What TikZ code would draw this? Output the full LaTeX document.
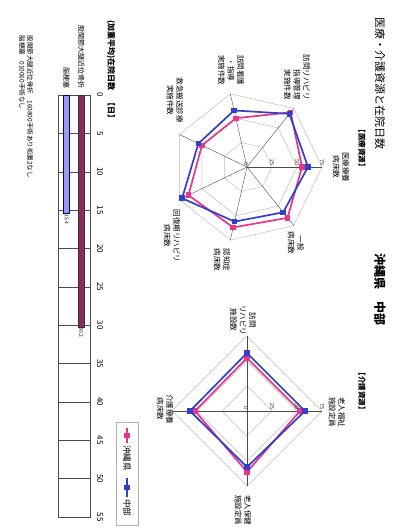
\documentclass[tikz,border=0pt]{standalone}
\usepackage{fontspec}
\setmainfont{Noto Sans CJK JP}
\definecolor{okipink}{RGB}{232,52,140}
\definecolor{chubublue}{RGB}{48,64,200}
\definecolor{hipbar}{RGB}{140,40,95}
\definecolor{strokebar}{RGB}{155,155,235}
\begin{document}
\begin{tikzpicture}[x=1pt,y=1pt,
  ring/.style={gray!50,line width=.5pt},
  spoke/.style={black!70,line width=.4pt},
  okiline/.style={okipink,line width=1.7pt,line join=round},
  chubuline/.style={chubublue,line width=1.7pt,line join=round},
  okimark/.style={fill=okipink,inner sep=0pt,minimum size=5.5pt},
  chubumark/.style={fill=chubublue,inner sep=0pt,minimum size=5.5pt},
  axlabel/.style={font=\fontsize{7.5}{9.5}\selectfont,align=center,inner sep=0pt},
  ticklabel/.style={font=\fontsize{5.5}{6}\selectfont,inner sep=0pt,anchor=east,black!80}]
\useasboundingbox (0,0) rectangle (405,-530);
% page is printed turned a quarter
\begin{scope}[rotate=-90,transform shape]
\node[anchor=west,font=\fontsize{11}{13}\selectfont] (title) at (14,380) {医療・介護資源と在院日数};
\node[anchor=west,font=\fontsize{12}{14}\selectfont\bfseries] (area) at (250,380) {沖縄県　中部};
\node[anchor=west,font=\fontsize{7.5}{9}\selectfont\bfseries] (medhead) at (122,362) {【医療資源】};
\node[anchor=west,font=\fontsize{7.5}{9}\selectfont\bfseries] (carehead) at (365,362) {【介護資源】};
%
% medical radar
\begin{scope}[shift={(167,247)}]
\foreach \r in {25,50,75}
  \draw[ring] (90:\r) \foreach \k in {1,...,6}{ -- ({90-\k*360/7}:\r)} -- cycle;
\foreach \k in {0,...,6}
  \draw[spoke] (0,0) -- ({90-\k*360/7}:75);
\draw[okiline] (90:55) \foreach \r [count=\k] in {65,62,65,50,50,70}{ -- ({90-\k*360/7}:\r)} -- cycle;
\foreach \r [count=\k from 0] in {55,65,62,65,50,50,70}
  \node[okimark] (mo\k) at ({90-\k*360/7}:\r) {};
\draw[chubuline] (90:61) \foreach \r [count=\k] in {58,56,72,54,58,68}{ -- ({90-\k*360/7}:\r)} -- cycle;
\foreach \r [count=\k from 0] in {61,58,56,72,54,58,68}
  \node[chubumark] (mc\k) at ({90-\k*360/7}:\r) {};
\node[ticklabel] (m0) at (-1.5,-1) {0};
\node[ticklabel] (m25) at (-1.5,25) {25};
\node[ticklabel] (m50) at (-1.5,50) {50};
\node[ticklabel] (m75) at (-1.5,75) {75};
\node[axlabel] (ryoyo) at (0,94) {医療療養\\病床数};
\node[axlabel] (ippan) at (76,49) {一般\\病床数};
\node[axlabel] (ninchi) at (93,-25) {認知症\\病床数};
\node[axlabel] (kaifuku) at (69,-75) {回復期リハビリ\\病床数};
\node[axlabel] (kyukyu) at (-67,-72) {救急搬送診療\\実施件数};
\node[axlabel] (kango) at (-97,-16) {訪問看護\\・指導\\実施件数};
\node[axlabel,align=right] (rihamed) at (-90,50) {訪問リハビリ\\指導管理\\実施件数};
\end{scope}
%
% care radar
\begin{scope}[shift={(411,247)}]
\foreach \r in {25,50,75}
  \draw[ring] (90:\r) -- (0:\r) -- (-90:\r) -- (180:\r) -- cycle;
\draw[spoke] (-75,0) -- (75,0) (0,-75) -- (0,75);
\draw[okiline] (90:53) -- (0:61) -- (-90:52) -- (180:53) -- cycle;
\foreach \r [count=\k from 0] in {53,61,52,53}
  \node[okimark] (co\k) at ({90-\k*90}:\r) {};
\draw[chubuline] (90:58) -- (0:56) -- (-90:57) -- (180:58) -- cycle;
\foreach \r [count=\k from 0] in {58,56,57,58}
  \node[chubumark] (cc\k) at ({90-\k*90}:\r) {};
\node[ticklabel] (c0) at (-1.5,-1) {0};
\node[ticklabel] (c25) at (-1.5,25) {25};
\node[ticklabel] (c50) at (-1.5,50) {50};
\node[ticklabel] (c75) at (-1.5,75) {75};
\node[axlabel] (fukushi) at (1,90) {老人福祉\\施設定員};
\node[axlabel] (hoken) at (99,-4) {老人保健\\施設定員};
\node[axlabel] (kaigo) at (-2,-82) {介護療養\\病床数};
\node[axlabel] (rihacare) at (-91,-4) {訪問\\リハビリ\\施設数};
\end{scope}
%
% legend
\draw[gray!60,fill=white] (422,116) rectangle (525,138);
\draw[okiline] (428,127) -- (443,127);
\node[okimark] (lo) at (435.5,127) {};
\node[anchor=west,inner sep=1pt,font=\fontsize{8.5}{10}\selectfont] (lotext) at (444,127) {沖縄県};
\draw[chubuline] (478,127) -- (497,127);
\node[chubumark] (lc) at (487.5,127) {};
\node[anchor=west,inner sep=1pt,font=\fontsize{8.5}{10}\selectfont] (lctext) at (498,127) {中部};
%
% length of stay bars
\node[anchor=west,font=\fontsize{8}{9}\selectfont\bfseries] (barhead) at (17,111) {(加重平均)在院日数　【日】};
\begin{scope}[shift={(95,58)},x=7.673pt]
\draw[black!70,line width=.5pt] (0,0) rectangle (55,32);
\foreach \t in {5,10,...,50}
  \draw[black!70,line width=.4pt] (\t,0) -- (\t,33);
\foreach \t in {0,5,...,55}
  \node[font=\fontsize{8}{9}\selectfont] (t\t) at (\t,42) {\t};
\draw[fill=hipbar,draw=black!80] (0,20) rectangle (30.2,26.5);
\draw[fill=strokebar,draw=black!60!blue] (0,5.5) rectangle (15.4,11.5);
\node[anchor=east,font=\fontsize{7}{8}\selectfont] (hip) at (-0.4,23.25) {股関節大腿近位骨折};
\node[anchor=east,font=\fontsize{7}{8}\selectfont] (stroke) at (-0.4,8.5) {脳梗塞};
\node[anchor=west,inner sep=1pt,font=\fontsize{5}{6}\selectfont] (hipval) at (30.2,23.25) {30.2};
\node[anchor=west,inner sep=1pt,font=\fontsize{5}{6}\selectfont] (strokeval) at (15.4,8.5) {15.4};
\end{scope}
\node[anchor=west,font=\fontsize{6.5}{7}\selectfont] (note1) at (32,30) {股関節大腿近位骨折　160800手術あり処置2なし};
\node[anchor=west,font=\fontsize{6.5}{7}\selectfont] (note2) at (32,22) {脳梗塞　010060手術なし};
\end{scope}
\end{tikzpicture}
\end{document}
